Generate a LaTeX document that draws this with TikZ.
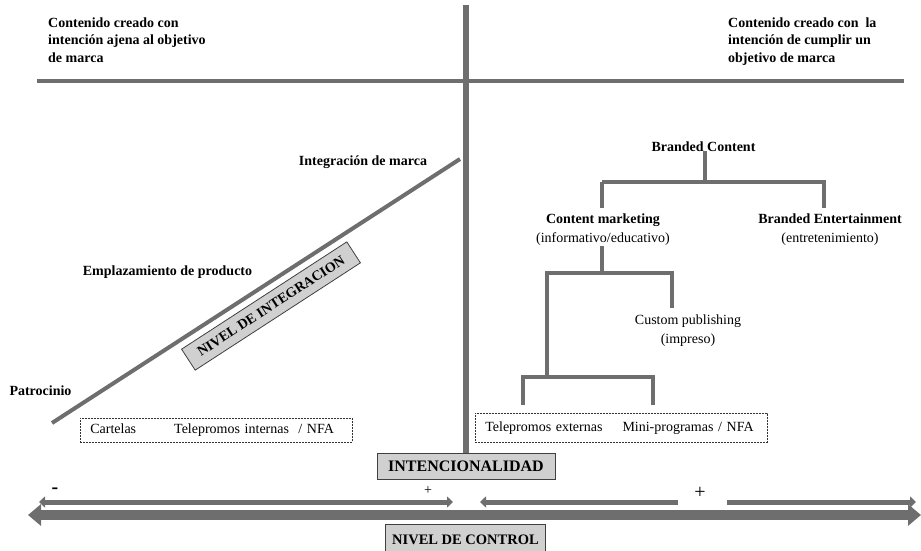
\documentclass[tikz,border=0pt]{standalone}
\usepackage{fontspec}
\setmainfont{Liberation Serif}
\usetikzlibrary{arrows.meta}
\definecolor{lineagris}{RGB}{110,110,110}
\definecolor{cajagris}{RGB}{208,208,208}
\tikzset{
  eje/.style={draw=lineagris, line width=4pt},
  rama/.style={draw=lineagris, line width=3.5pt},
  titulo/.style={font=\fontsize{14}{17.5}\selectfont\bfseries, align=left, inner sep=0pt},
  etiqueta/.style={font=\fontsize{14}{17}\selectfont\bfseries, inner sep=0pt},
  rotulo/.style={font=\fontsize{14}{18.5}\selectfont, align=center, inner sep=0pt},
  caja/.style={draw=black!75, fill=cajagris, line width=0.8pt, inner sep=0pt},
  punteada/.style={draw=black!80, dash pattern=on 2pt off 1pt, line width=0.6pt,
    font=\fontsize{14}{16}\selectfont, align=left, inner xsep=10pt, inner ysep=0pt},
  flecha/.style={draw=lineagris, line width=5pt},
  puntas/.style={{Triangle[length=6pt,width=11pt]}-{Triangle[length=6pt,width=11pt]}},
  flechona/.style={draw=lineagris, line width=10pt,
    {Triangle[length=13pt,width=21pt]}-{Triangle[length=13pt,width=21pt]}}
}
\begin{document}
\begin{tikzpicture}[x=1pt, y=-1pt]
  \useasboundingbox (0,0) rectangle (921,551);
  \clip (0,0) rectangle (921,551);
  % cabeceras
  \node[titulo, anchor=north west] (ajena) at (48,17.5)
    {Contenido creado con\\intención ajena al objetivo\\de marca};
  \node[titulo, anchor=north west] (cumplir) at (728,17.5)
    {Contenido creado con \ la\\intención de cumplir un\\objetivo de marca};
  \node[caja, minimum width=178pt, minimum height=26pt,
    font=\fontsize{16}{16}\selectfont\bfseries] (inten) at (466,466) {INTENCIONALIDAD};
  \coordinate (arriba) at (466,5);
  \draw[eje, line width=5.5pt] (arriba) -- (inten.north);
  \coordinate (bordeizq) at (37,81.5);
  \coordinate (bordeder) at (904,81.5);
  \draw[eje] (bordeizq) -- (bordeder);
  % nivel de integracion
  \node[etiqueta, anchor=base] (patro) at (40.5,395) {Patrocinio};
  \node[etiqueta, anchor=base] (empla) at (167.5,275) {Emplazamiento de producto};
  \node[etiqueta, anchor=base] (integ) at (363,165) {Integración de marca};
  \coordinate (diagini) at (52,423);
  \coordinate (diagfin) at (460,159);
  \draw[eje] (diagini) -- (diagfin);
  \node[caja, rotate=33, minimum width=197pt, minimum height=25pt,
    font=\fontsize{14}{14}\selectfont\bfseries] (nivint) at (271,306) {NIVEL DE INTEGRACION};
  \node[punteada, anchor=north west, text width=252pt, minimum height=24pt] (internas) at (80,418)
    {Cartelas\hspace{38pt}Telepromos internas \ / NFA};
  % arbol del branded content
  \node[etiqueta, anchor=base] (bc) at (703.5,151) {Branded Content};
  \node[rotulo, anchor=north] (cm) at (603,214)
    {\textbf{Content marketing}\\(informativo/educativo)};
  \node[rotulo, anchor=north] (be) at (830,214)
    {\textbf{Branded Entertainment}\\(entretenimiento)};
  \node[rotulo, anchor=north] (cp) at (688,315)
    {Custom publishing\\(impreso)};
  \node[punteada, anchor=north west, text width=272pt, minimum height=29pt] (externas) at (475,413)
    {Telepromos externas\hspace{20pt}Mini-programas / NFA};
  \coordinate (f1) at (705,182);
  \coordinate (f2) at (602,273);
  \coordinate (f3) at (547,377);
  \coordinate (pata1) at (523,405);
  \coordinate (pata2) at (653,405);
  \draw[rama] (bc.south -| f1) -- (f1);
  \draw[rama] (f1 -| 602,0) |- (f1) -| (824,208);
  \draw[rama] (602,208) -- (f1 -| 602,0);
  \draw[rama] (cm.south -| f2) -- (f2);
  \draw[rama] (f3) |- (f2) -| (672,308);
  \draw[rama] (pata1) |- (f3) -| (pata2);
  % nivel de control
  \node[font=\fontsize{20}{20}\selectfont\bfseries, inner sep=0pt] (menos) at (55,491) {-};
  \node[font=\fontsize{14}{14}\selectfont, inner sep=0pt] (masizq) at (428,491) {+};
  \node[font=\fontsize{20}{20}\selectfont, inner sep=0pt] (masder) at (700,493) {+};
  \coordinate (a1) at (39,502);
  \coordinate (a2) at (453,502);
  \coordinate (a3) at (480,502);
  \coordinate (a4) at (678,502);
  \coordinate (a5) at (727,502);
  \coordinate (a6) at (916,502);
  \draw[flecha, puntas] (a1) -- (a2);
  \draw[flecha, {Triangle[length=6pt,width=11pt]}-] (a3) -- (a4);
  \draw[flecha, -{Triangle[length=6pt,width=11pt]}] (a5) -- (a6);
  \coordinate (c1) at (28,515);
  \coordinate (c2) at (921,515);
  \draw[flechona] (c1) -- (c2);
  \node[caja, minimum width=160pt, minimum height=30pt, anchor=north,
    font=\fontsize{14.5}{14.5}\selectfont\bfseries, text depth=-6pt] (control) at (465.5,524) {NIVEL DE CONTROL};
\end{tikzpicture}
\end{document}
